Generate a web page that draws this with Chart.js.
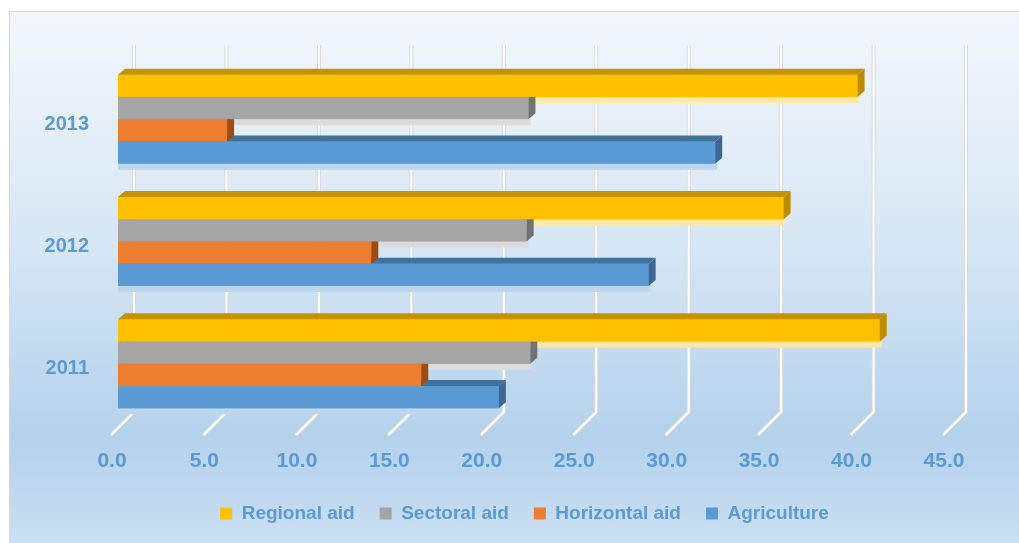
<!DOCTYPE html>
<html>
<head>
<meta charset="utf-8">
<script src="https://cdn.jsdelivr.net/npm/chart.js@4/dist/chart.umd.min.js"></script>
<style>
  html, body { margin: 0; padding: 0; background: #ffffff; }
  #wrap { width: 1019px; height: 543px; position: relative; }
</style>
</head>
<body>
<div id="wrap"><canvas id="aidChart"></canvas></div>
<script>
const years = ['2013', '2012', '2011'];
const regionalAid = [40.0, 36.0, 41.2];
const sectoralAid = [22.2, 22.1, 22.3];
const horizontalAid = [5.9, 13.7, 16.4];
const agriculture = [32.3, 28.7, 20.6];
const xMin = 0, xMax = 45, xStep = 5;

// front, top, side, strip under bar
const faces = [
    ['#FFC000', '#C59300', '#BC8C00', '#FFE8A3'],
    ['#A5A5A5', '#7E7E7E', '#727272', '#DCDCDC'],
    ['#ED7D31', '#B45A1E', '#9E4A14', '#F6C3A0'],
    ['#5B9BD5', '#41719C', '#3B6790', '#BCD6EF']
];
const DX = 7, DY = 6;

const bar3d = {
    id: 'bar3d',
    beforeDraw(chart) {
        const ctx = chart.ctx;
        const w = chart.width, h = chart.height;
        ctx.save();
        ctx.fillStyle = '#ffffff';
        ctx.fillRect(0, 0, w, h);
        const g = ctx.createLinearGradient(0, 11, 0, h);
        g.addColorStop(0, '#F3F7FC');
        g.addColorStop(0.45, '#D6E6F4');
        g.addColorStop(0.8, '#B4D1EC');
        g.addColorStop(1, '#CADFF2');
        ctx.fillStyle = g;
        ctx.fillRect(9, 11, w - 9, h - 11);
        ctx.strokeStyle = '#D9D9D9';
        ctx.lineWidth = 1;
        ctx.beginPath();
        ctx.moveTo(9.5, h);
        ctx.lineTo(9.5, 11.5);
        ctx.lineTo(w, 11.5);
        ctx.stroke();
        ctx.restore();
    },
    beforeDatasetsDraw(chart) {
        // back wall grid lines and floor lines
        const ctx = chart.ctx;
        const xs = chart.scales.x;
        const area = chart.chartArea;
        ctx.save();
        ctx.lineCap = 'butt';
        for (let v = xMin; v <= xMax; v += xStep) {
            const px = xs.getPixelForValue(v);
            const bx = px + 16;
            const topY = area.top - 13, wallY = area.bottom - 13;
            [['#DADADA', 4], ['#FFFFFF', 2]].forEach(function (s) {
                ctx.strokeStyle = s[0];
                ctx.lineWidth = s[1];
                ctx.beginPath();
                ctx.moveTo(bx, topY);
                ctx.lineTo(bx, wallY);
                ctx.lineTo(px - 7, area.bottom + 10);
                ctx.stroke();
            });
        }
        ctx.restore();
    },
    afterDatasetsDraw(chart) {
        const ctx = chart.ctx;
        const n = chart.data.datasets.length;
        const boxes = [];
        for (let i = n - 1; i >= 0; i--) {
            chart.getDatasetMeta(i).data.forEach(function (bar) {
                const p = bar.getProps(['x', 'y', 'base', 'height'], true);
                boxes.push({
                    i: i,
                    x0: Math.min(p.base, p.x), x1: Math.max(p.base, p.x),
                    y0: p.y - p.height / 2, y1: p.y + p.height / 2
                });
            });
        }
        ctx.save();
        // pale strips below each bar
        boxes.forEach(function (b) {
            ctx.fillStyle = faces[b.i][3];
            ctx.fillRect(b.x0, b.y1, b.x1 - b.x0 + 2, 6);
        });
        boxes.forEach(function (b) {
            const c = faces[b.i];
            ctx.fillStyle = c[0];
            ctx.fillRect(b.x0, b.y0, b.x1 - b.x0, b.y1 - b.y0);
            ctx.fillStyle = c[1];
            ctx.beginPath();
            ctx.moveTo(b.x0, b.y0);
            ctx.lineTo(b.x0 + DX, b.y0 - DY);
            ctx.lineTo(b.x1 + DX, b.y0 - DY);
            ctx.lineTo(b.x1, b.y0);
            ctx.closePath();
            ctx.fill();
            ctx.fillStyle = c[2];
            ctx.beginPath();
            ctx.moveTo(b.x1, b.y0);
            ctx.lineTo(b.x1 + DX, b.y0 - DY);
            ctx.lineTo(b.x1 + DX, b.y1 - DY);
            ctx.lineTo(b.x1, b.y1);
            ctx.closePath();
            ctx.fill();
        });
        ctx.restore();
    }
};

const fontFamily = '"Liberation Sans", Arial, sans-serif';
const blue = '#5B9BD5';

new Chart(document.getElementById('aidChart'), {
    type: 'bar',
    data: {
        labels: years,
        datasets: [
            { label: 'Regional aid', data: regionalAid, backgroundColor: faces[0][0] },
            { label: 'Sectoral aid', data: sectoralAid, backgroundColor: faces[1][0] },
            { label: 'Horizontal aid', data: horizontalAid, backgroundColor: faces[2][0] },
            { label: 'Agriculture', data: agriculture, backgroundColor: faces[3][0] }
        ]
    },
    options: {
        indexAxis: 'y',
        responsive: true,
        maintainAspectRatio: false,
        animation: false,
        categoryPercentage: 0.728,
        barPercentage: 1,
        layout: { padding: { top: 58, right: 0, left: 30, bottom: 10 } },
        scales: {
            x: {
                min: xMin, max: xMax,
                grid: { display: false, drawTicks: false },
                border: { display: false },
                ticks: {
                    stepSize: xStep,
                    color: blue,
                    font: { family: fontFamily, size: 21, weight: 'bold' },
                    padding: 24,
                    labelOffset: -6,
                    callback: function (v) { return Number(v).toFixed(1); }
                },
                afterFit: function (scale) { scale.height = 54; }
            },
            y: {
                grid: { display: false, drawTicks: false },
                border: { display: false },
                ticks: {
                    color: blue,
                    font: { family: fontFamily, size: 20, weight: 'bold' },
                    padding: 29,
                    labelOffset: 5
                },
                afterFit: function (scale) { scale.width = 88; }
            },
            // empty right margin so the legend centres like the original
            margin: {
                type: 'linear',
                position: 'right',
                grid: { display: false },
                border: { display: false },
                ticks: { display: false },
                afterFit: function (scale) { scale.width = 69; }
            }
        },
        plugins: {
            legend: {
                position: 'bottom',
                labels: {
                    color: blue,
                    font: { family: fontFamily, size: 19, weight: 'bold' },
                    boxWidth: 12,
                    boxHeight: 12,
                    padding: 25
                }
            },
            tooltip: { enabled: false }
        }
    },
    plugins: [bar3d]
});
</script>
</body>
</html>
